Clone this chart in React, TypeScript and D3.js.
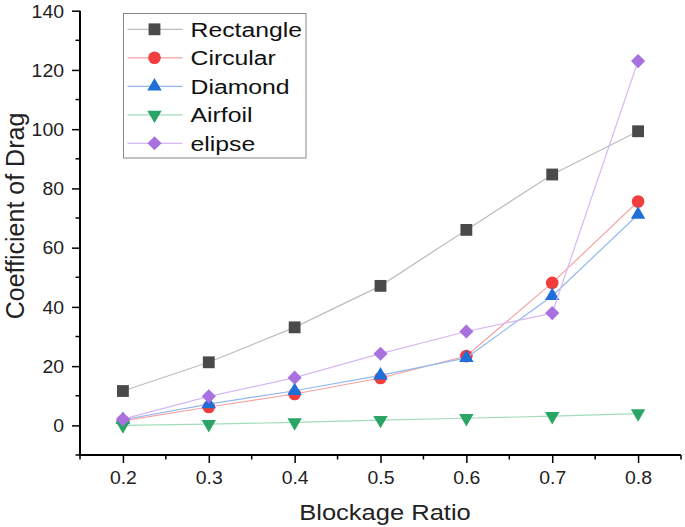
import React, { useEffect, useRef } from "react";
import * as d3 from "d3";

const blockageRatio = [0.2, 0.3, 0.4, 0.5, 0.6, 0.7, 0.8];
const seriesNames = ["Rectangle", "Circular", "Diamond", "Airfoil", "elipse"];
const rectangle = [11.6, 21.3, 33.1, 47.1, 66.0, 84.7, 99.3];
const circular = [1.5, 6.2, 10.6, 16.0, 23.4, 48.1, 75.6];
const diamond = [1.9, 7.2, 11.7, 16.9, 22.8, 43.7, 71.2];
const airfoil = [0.0, 0.4, 1.0, 1.8, 2.4, 3.1, 4.0];
const elipse = [2.1, 9.8, 16.1, 24.2, 31.7, 37.9, 123.0];
const xTicks = [0.2, 0.3, 0.4, 0.5, 0.6, 0.7, 0.8];
const yTicks = [0, 20, 40, 60, 80, 100, 120, 140];

const W = 685;
const H = 527;

export default function App() {
  const ref = useRef<SVGSVGElement | null>(null);

  useEffect(() => {
    const svg = d3.select(ref.current);
    svg.selectAll("*").remove();
    const font = "Arial, 'Liberation Sans', sans-serif";

    const x = d3.scaleLinear().domain([0.15, 0.85]).range([80, 681]);
    const y = d3.scaleLinear().domain([-10, 140]).range([455, 10.7]);

    const styles = [
      { marker: "#4a4a4a", line: "#bdbdbd", sym: d3.symbolSquare, size: 140, rot: 0 },
      { marker: "#f23d3d", line: "#f5a3a3", sym: d3.symbolCircle, size: 125, rot: 0 },
      { marker: "#1f6fd9", line: "#93b8ee", sym: d3.symbolTriangle, size: 90, rot: 0 },
      { marker: "#2ba566", line: "#a3dcbc", sym: d3.symbolTriangle, size: 90, rot: 180 },
      { marker: "#a970e0", line: "#d6b8f2", sym: d3.symbolSquare, size: 100, rot: 45 },
    ];
    const data = [rectangle, circular, diamond, airfoil, elipse];

    // axes
    const gx = svg.append("g").attr("transform", `translate(0,455)`);
    gx.call(
      d3.axisBottom(x).tickValues(xTicks).tickSize(8).tickFormat(d3.format(".1f")) as any
    );
    const gy = svg.append("g").attr("transform", `translate(80,0)`);
    gy.call(d3.axisLeft(y).tickValues(yTicks).tickSize(8).tickFormat(d3.format("d")) as any);

    // minor ticks
    const xMinor = d3.range(0.15, 0.851, 0.1).map((v) => +v.toFixed(2));
    gx.selectAll("line.minor")
      .data(xMinor)
      .join("line")
      .attr("class", "minor")
      .attr("x1", (d) => x(d))
      .attr("x2", (d) => x(d))
      .attr("y1", 0)
      .attr("y2", 4.5)
      .attr("stroke", "#000")
      .attr("stroke-width", 1.5);
    const yMinor = d3.range(-10, 131, 20);
    gy.selectAll("line.minor")
      .data(yMinor)
      .join("line")
      .attr("class", "minor")
      .attr("x1", 0)
      .attr("x2", -4.5)
      .attr("y1", (d) => y(d))
      .attr("y2", (d) => y(d))
      .attr("stroke", "#000")
      .attr("stroke-width", 1.5);

    [gx, gy].forEach((g) => {
      g.select(".domain").attr("stroke", "#000").attr("stroke-width", 2);
      g.selectAll(".tick line").attr("stroke", "#000").attr("stroke-width", 1.5);
      g.selectAll(".tick text")
        .attr("font-family", font)
        .attr("font-size", 18)
        .attr("fill", "#222");
    });
    gx.select(".domain").attr("d", `M${x(0.15)},0H${x(0.85)}`);
    gy.select(".domain").attr("d", `M0,${y(-10)}V${y(140)}`);
    gx.selectAll(".tick text")
      .attr("y", null)
      .attr("transform", "translate(0,16) scale(1.08,1)")
      .attr("dy", "0.71em");
    gy.selectAll(".tick text")
      .attr("x", null)
      .attr("transform", "translate(-16,0) scale(1.08,1)")
      .attr("dy", "0.35em");

    // series
    data.forEach((vals, i) => {
      const st = styles[i];
      const pts = vals.map((v, j) => [x(blockageRatio[j]), y(v)] as [number, number]);
      svg
        .append("path")
        .attr("d", d3.line()(pts))
        .attr("fill", "none")
        .attr("stroke", st.line)
        .attr("stroke-width", 1.2);
      svg
        .append("g")
        .selectAll("path")
        .data(pts)
        .join("path")
        .attr("d", d3.symbol().type(st.sym).size(st.size)() as string)
        .attr("transform", (p) => `translate(${p[0]},${p[1]}) rotate(${st.rot})`)
        .attr("fill", st.marker);
    });

    // legend
    const lg = svg.append("g");
    lg.append("rect")
      .attr("x", 123.5)
      .attr("y", 13.5)
      .attr("width", 182.5)
      .attr("height", 144.5)
      .attr("fill", "#fff")
      .attr("stroke", "#888")
      .attr("stroke-width", 1);
    seriesNames.forEach((name, i) => {
      const st = styles[i];
      const cy = 29.3 + i * 28.5;
      lg.append("line")
        .attr("x1", 127.5)
        .attr("x2", 182.5)
        .attr("y1", cy)
        .attr("y2", cy)
        .attr("stroke", st.line)
        .attr("stroke-width", 1.2);
      lg.append("path")
        .attr("d", d3.symbol().type(st.sym).size(st.size)() as string)
        .attr("transform", `translate(154.5,${cy}) rotate(${st.rot})`)
        .attr("fill", st.marker);
      lg.append("text")
        .attr("transform", `translate(190.5,${cy}) scale(1.18,1)`)
        .attr("dy", "0.35em")
        .attr("font-family", font)
        .attr("font-size", 21)
        .attr("fill", "#111")
        .text(name);
    });

    // axis titles
    svg
      .append("text")
      .attr("transform", `translate(385,520) scale(1.16,1)`)
      .attr("text-anchor", "middle")
      .attr("font-family", font)
      .attr("font-size", 22)
      .attr("fill", "#222")
      .text("Blockage Ratio");
    svg
      .append("text")
      .attr("transform", `translate(24,216) rotate(-90)`)
      .attr("text-anchor", "middle")
      .attr("font-family", font)
      .attr("font-size", 25)
      .attr("fill", "#222")
      .text("Coefficient of Drag");
  }, []);

  return (
    <svg
      ref={ref}
      width={W}
      height={H}
      style={{ position: "absolute", left: 0, top: 0, background: "#fff" }}
    />
  );
}
